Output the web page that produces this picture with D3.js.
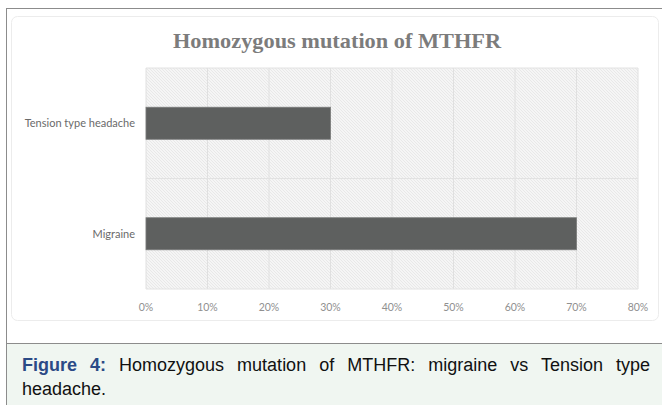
<!DOCTYPE html>
<html>
<head>
    <meta charset="utf-8">
    <style>
        body {
            margin: 0;
            width: 662px;
            height: 405px;
            background: #fff;
            overflow: hidden;
            position: relative;
        }
        .frame {
            position: absolute;
            left: 6px;
            top: 8px;
            width: 670px;
            height: 420px;
            border-left: 1.5px solid #8c8c8c;
            border-top: 1.5px solid #8c8c8c;
        }
        .caption {
            position: absolute;
            left: 7px;
            top: 343px;
            width: 660px;
            height: 70px;
            background: #f0f6f1;
            border-top: 1.5px solid #8c8c8c;
        }
        .caption div {
            position: absolute;
            left: 15px;
            width: 628px;
            font-family: "Liberation Sans", Arial, sans-serif;
            font-size: 18px;
            line-height: 24px;
            color: #111;
            white-space: nowrap;
        }
        .caption .line1 {
            top: 9px;
            text-align: justify;
            text-align-last: justify;
        }
        .caption .line2 {
            top: 33px;
        }
        .caption .fig {
            color: #2b4a86;
            font-weight: bold;
        }
        svg {
            position: absolute;
            left: 0;
            top: 0;
        }
    </style>
    <script src="https://d3js.org/d3.v7.min.js"></script>
</head>
<body>
    <div class="frame"></div>
    <div class="caption">
        <div class="line1"><span class="fig">Figure 4:</span> Homozygous mutation of MTHFR: migraine vs Tension type</div>
        <div class="line2">headache.</div>
    </div>

    <script>
        // data
        const categories = ['Tension type headache', 'Migraine'];
        const values = [0.30, 0.70];
        const ticks = [0, 0.1, 0.2, 0.3, 0.4, 0.5, 0.6, 0.7, 0.8];
        const title = 'Homozygous mutation of MTHFR';

        const width = 662, height = 343;
        const svg = d3.select('body').append('svg')
            .attr('width', width)
            .attr('height', height);

        // hatch pattern of the plot area
        const defs = svg.append('defs');
        const pat = defs.append('pattern')
            .attr('id', 'hatch')
            .attr('patternUnits', 'userSpaceOnUse')
            .attr('width', 3).attr('height', 3);
        pat.append('rect').attr('width', 3).attr('height', 3).attr('fill', '#f5f5f5');
        pat.append('path')
            .attr('d', 'M-1,-1 L4,4 M-1,2 L1,4 M2,-1 L4,1')
            .attr('stroke', '#e5e5e5')
            .attr('stroke-width', 0.8);

        // chart panel
        svg.append('rect')
            .attr('x', 11.5).attr('y', 16.5)
            .attr('width', 647).attr('height', 304)
            .attr('rx', 6)
            .attr('fill', '#fff')
            .attr('stroke', '#ececec');

        const x = d3.scaleLinear().domain([0, 0.8]).range([146, 638]);
        const yGrid = d3.scaleBand().domain(categories).range([68, 289]);
        const y = d3.scaleBand().domain(categories).range([68, 289])
            .paddingInner(0.71).paddingOuter(0.355);

        svg.append('rect')
            .attr('x', x(0)).attr('y', 68)
            .attr('width', x(0.8) - x(0)).attr('height', 221)
            .attr('fill', 'url(#hatch)');

        // vertical gridlines
        svg.append('g')
            .selectAll('line')
            .data(ticks)
            .join('line')
            .attr('x1', d => x(d)).attr('x2', d => x(d))
            .attr('y1', 68).attr('y2', 289)
            .attr('stroke', '#e0e0e0')
            .attr('stroke-width', 1);

        // horizontal gridlines at category boundaries
        const bounds = categories.map(c => yGrid(c)).concat([yGrid.range()[1]]);
        svg.append('g')
            .selectAll('line')
            .data(bounds)
            .join('line')
            .attr('x1', x(0)).attr('x2', x(0.8))
            .attr('y1', d => d).attr('y2', d => d)
            .attr('stroke', '#e2e2e2');

        // bars
        svg.append('g')
            .selectAll('rect')
            .data(values)
            .join('rect')
            .attr('x', x(0))
            .attr('y', (d, i) => y(categories[i]))
            .attr('width', d => x(d) - x(0))
            .attr('height', y.bandwidth())
            .attr('fill', '#5e605f')
            .attr('stroke', '#7a7c7b')
            .attr('stroke-width', 0.8);

        // category labels
        svg.append('g')
            .selectAll('text')
            .data(categories)
            .join('text')
            .attr('x', 135)
            .attr('y', d => y(d) + y.bandwidth() / 2)
            .attr('dy', '0.35em')
            .attr('text-anchor', 'end')
            .style('font-family', 'Lato, "Open Sans", sans-serif')
            .style('font-size', '11px')
            .style('fill', '#6a6a6a')
            .text(d => d);

        // x axis tick labels
        svg.append('g')
            .selectAll('text')
            .data(ticks)
            .join('text')
            .attr('x', d => x(d))
            .attr('y', 311)
            .attr('text-anchor', 'middle')
            .style('font-family', 'Lato, "Open Sans", sans-serif')
            .style('font-size', '10.5px')
            .style('fill', '#909090')
            .text(d3.format('.0%'));

        // title
        svg.append('text')
            .attr('x', 337)
            .attr('y', 48)
            .attr('text-anchor', 'middle')
            .attr('textLength', 328)
            .attr('lengthAdjust', 'spacingAndGlyphs')
            .style('font-family', '"Liberation Serif", "DejaVu Serif", serif')
            .style('font-weight', 'bold')
            .style('font-size', '22px')
            .style('fill', '#7c7c7c')
            .text(title);
    </script>
</body>
</html>
